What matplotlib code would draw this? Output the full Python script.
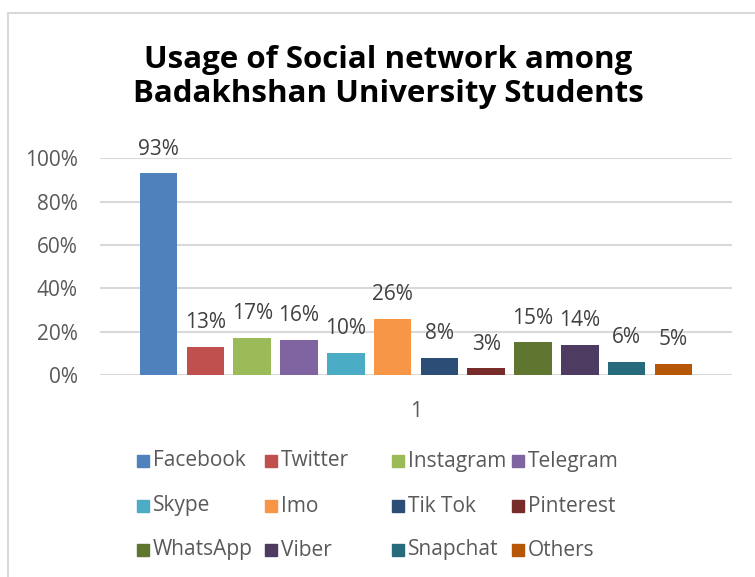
import matplotlib.pyplot as plt
from matplotlib.patches import Rectangle

networks = ['Facebook', 'Twitter', 'Instagram', 'Telegram', 'Skype', 'Imo',
            'Tik Tok', 'Pinterest', 'WhatsApp', 'Viber', 'Snapchat', 'Others']
usage = [0.93, 0.13, 0.17, 0.16, 0.10, 0.26, 0.08, 0.03, 0.15, 0.14, 0.06, 0.05]
colors = ['#4F81BD', '#C0504D', '#9BBB59', '#8064A2', '#4BACC6', '#F79646',
          '#2C4D75', '#772C2A', '#5F7530', '#4D3B62', '#276A7C', '#B65708']
yticks = [0, 0.2, 0.4, 0.6, 0.8, 1.0]

plt.rcParams['font.family'] = ['Open Sans', 'DejaVu Sans']

W, H = 755, 577
fig = plt.figure(figsize=(W / 100, H / 100), dpi=100)

# chart border
fig.patches.append(Rectangle((8 / W, -0.01), 1.0, 1 - 13 / H + 0.01,
                             transform=fig.transFigure, fill=False,
                             edgecolor='#D9D9D9', linewidth=1.5))

ax = fig.add_axes([100 / W, 1 - 375 / H, 632 / W, (375 - 158.3) / H])
xs = list(range(len(networks)))
ax.bar(xs, usage, width=0.8, color=colors, zorder=3)
for x, v in zip(xs, usage):
    ax.annotate(f'{round(v * 100)}%', (x, v), xytext=(0, 10), textcoords='offset points',
                ha='center', va='bottom', fontsize=15, color='#404040')

ax.set_xlim(-1.25, 12.25)
ax.set_ylim(0, 1.0)
ax.set_yticks(yticks)
ax.set_yticklabels([f'{int(t * 100)}%' for t in yticks], fontsize=15, color='#595959')
ax.set_xticks([(len(networks) - 1) / 2])
ax.set_xticklabels(['1'], fontsize=15, color='#595959')
ax.tick_params(length=0)
ax.tick_params(axis='y', pad=16)
ax.tick_params(axis='x', pad=19)
ax.grid(axis='y', color='#D9D9D9', linewidth=1.5, zorder=0)
for s in ax.spines.values():
    s.set_visible(False)

fig.text(388 / W, 1 - 77 / H, 'Usage of Social network among\nBadakhshan University Students',
         ha='center', va='center', fontsize=22.5, fontweight='bold', color='black',
         linespacing=1.2)

# legend
col_x = [137, 265, 392, 512]
row_y = [461, 506, 550]
for i, (name, c) in enumerate(zip(networks, colors)):
    x0 = col_x[i % 4]
    y0 = row_y[i // 4]
    fig.patches.append(Rectangle((x0 / W, 1 - (y0 + 6) / H), 12 / W, 12 / H,
                                 transform=fig.transFigure, color=c))
    fig.text((x0 + 16) / W, 1 - y0 / H, name, ha='left', va='center',
             fontsize=15, color='#595959')

fig.savefig('out.png', dpi=100)
